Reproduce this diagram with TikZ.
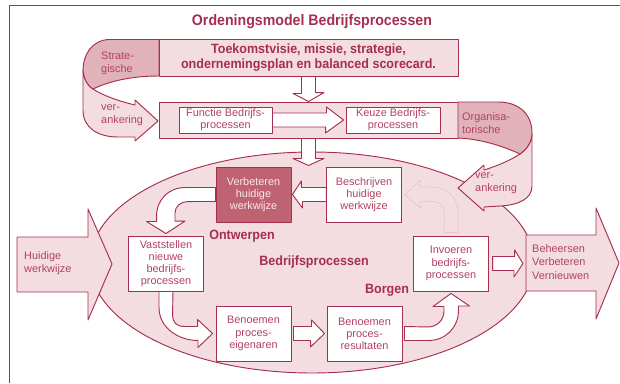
\documentclass[tikz,border=0pt]{standalone}
\usepackage{fontspec}
\setmainfont{Liberation Sans}[BoldFeatures={FakeStretch=0.93}]
\usetikzlibrary{calc}

\definecolor{roze}{RGB}{166,46,80}
\definecolor{tekstroze}{RGB}{178,66,98}
\definecolor{lichtroze}{RGB}{243,221,224}
\definecolor{middenroze}{RGB}{226,178,186}
\definecolor{donkerroze}{RGB}{191,99,115}
\definecolor{bleekroze}{RGB}{250,232,236}

\begin{document}
\begin{tikzpicture}[
    x=0.3mm, y=-0.3mm,
    lijn/.style={draw=roze, line width=0.8pt, line join=round},
    vlak/.style={lijn, fill=lichtroze},
    lint/.style={lijn, fill=middenroze},
    blok/.style={lijn, fill=white},
    vaag/.style={draw=roze!40, line width=0.6pt, densely dotted},
    kader/.style={lijn, fill=white, text=tekstroze, align=center, inner sep=1pt,
        minimum width=22.3mm, minimum height=16.5mm, font=\fontsize{9.3}{10.4}\selectfont},
    kaderdonker/.style={kader, fill=donkerroze, text=bleekroze},
    smal/.style={kader, minimum width=28mm, minimum height=7.8mm, font=\fontsize{9.3}{10}\selectfont},
    tekst/.style={text=tekstroze, align=left, inner sep=0pt, font=\fontsize{9.3}{11}\selectfont},
    kop/.style={text=roze, inner sep=0pt, font=\bfseries\fontsize{11.5}{13}\selectfont}
  ]
  \useasboundingbox (0,0) rectangle (620,383);

  % kader en titel
  \draw[lijn, line cap=rect] (9,383) -- (9,5) -- (620,5);
  \node[kop, font=\bfseries\fontsize{13}{15}\selectfont] (titel) at (312,22) {Ordeningsmodel Bedrijfsprocessen};

  % grote ellips bedrijfsprocessen
  \draw[vlak] (312,262.5) ellipse [x radius=222, y radius=110.5];

  % strategische verankering (lint links)
  \draw[vlak] (83,70) -- (83,110) .. controls (83,128) and (98,137) .. (118,137) -- (135,137)
    -- (135,141) -- (158,121) -- (135,100) -- (135,105)
    .. controls (118,101) and (102,95) .. (93,89) .. controls (88,86) and (84,80) .. (83,70) -- cycle;
  \draw[lint] (159,39.5) -- (110,39.5) .. controls (92,39.5) and (83,55) .. (83,70)
    .. controls (84,80) and (88,86) .. (93,89) .. controls (112,80) and (135,76) .. (159,76) -- cycle;

  % bovenste blokken
  \node[lijn, fill=lichtroze, minimum width=89.7mm, minimum height=11.1mm, align=center, inner sep=0pt,
        text=roze, font=\bfseries\fontsize{11.5}{12.8}\selectfont] (toekomst) at (308.5,57.5)
        {Toekomstvisie, missie, strategie,\\ondernemingsplan en balanced scorecard.};
  \node[lijn, fill=lichtroze, minimum width=89.7mm, minimum height=10.8mm] (uitwerking) at (308.5,120) {};

  % organisatorische verankering (lint rechts)
  \draw[vlak] (532,133) -- (532,186) .. controls (532,198) and (520,205) .. (500,206) -- (484,207)
    -- (484,211) -- (458,188) -- (484,165) -- (484,170)
    .. controls (497,166) and (511,160) .. (520,154) .. controls (527,149) and (532,142) .. (532,133) -- cycle;
  \draw[lint] (458,102) -- (498,102) .. controls (520,102) and (532,115) .. (532,133)
    .. controls (532,142) and (527,149) .. (520,154) .. controls (505,147) and (482,139) .. (458,138) -- cycle;

  \node[smal, minimum width=27.9mm] (functie) at (225.5,120) {Functie Bedrijfs-\\processen};
  \node[smal, minimum width=28.2mm] (keuze) at (393,120) {Keuze Bedrijfs-\\processen};

  % in- en uitgaande pijlen
  \draw[vlak] (17,237) -- (88,237) -- (88,209) -- (112,264) -- (88,320) -- (88,292) -- (17,292) -- cycle;
  \draw[vlak] (526,235) -- (596,235) -- (596,208) -- (619,263) -- (596,319) -- (596,291) -- (526,291) -- cycle;
  \coordinate (uitgang) at (526,263.5);

  % processtappen
  \node[kaderdonker, minimum width=22.5mm] (verbeteren) at (253.5,194.5) {Verbeteren\\huidige\\werkwijze};
  \node[kader] (beschrijven) at (364,194.5) {Beschrijven\\huidige\\werkwijze};
  \node[kader] (vaststellen) at (166,263.5) {Vaststellen\\nieuwe\\bedrijfs-\\processen};
  \node[kader, minimum width=22.5mm] (eigenaren) at (253.5,333.5) {Benoemen\\proces-\\eigenaren};
  \node[kader, minimum width=22.5mm] (resultaten) at (364.5,333.5) {Benoemen\\proces-\\resultaten};
  \node[kader] (invoeren) at (451,263.5) {Invoeren\\bedrijfs-\\processen};

  % blokpijlen
  \draw[blok] ($(toekomst.south)+(-7,0)$) -- ++(0,17) -- ++(-8.5,0) -- (uitwerking.north)
    -- ++(15.5,-9) -- ++(-8.5,0) -- ($(toekomst.south)+(7,0)$) -- cycle;
  \draw[blok] ($(uitwerking.south)+(-7,0)$) -- ++(0,20) -- ++(-8.5,0) -- ($(uitwerking.south)+(0,27)$)
    -- ++(15.5,-7) -- ++(-8.5,0) -- ($(uitwerking.south)+(7,0)$) -- cycle;
  \draw[blok] ($(functie.east)+(0,-7)$) -- ++(54,0) -- ++(0,-6) -- ($(keuze.west)+(-2,0)$)
    -- ++(-18,13) -- ++(0,-6) -- ($(functie.east)+(0,7)$) -- cycle;
  \draw[blok] ($(beschrijven.west)+(0,-7)$) -- ++(-25,0) -- ++(0,-6.5) -- ($(verbeteren.east)+(1,0)$)
    -- ++(10,13.5) -- ++(0,-6.5) -- ($(beschrijven.west)+(0,7)$) -- cycle;
  \draw[blok] ($(verbeteren.west)+(0,-7)$) -- ++(-30,0) .. controls +(-17,0) and +(0,-17) .. ++(-29,29)
    -- ++(0,5) -- ++(-10,0) -- ($(vaststellen.north)+(0,-2)$) -- ++(19,-12.5) -- ++(-10,0) -- ++(0,-8)
    .. controls +(0,-7) and +(-7,0) .. ++(13,-11.5) -- ($(verbeteren.west)+(0,7)$) -- cycle;
  \draw[blok] ($(vaststellen.south)+(-7,0)$) -- ++(0,16) .. controls +(0,20) and +(-20,0) .. ++(39,33)
    -- ++(0,7) -- ($(eigenaren.west)+(-3,0)$) -- ++(-15,-14) -- ++(0,7) -- ++(-13,0)
    .. controls +(-8,0) and +(0,8) .. ++(-12,-12) -- ($(vaststellen.south)+(7,0)$) -- cycle;
  \draw[blok] ($(eigenaren.east)+(2,-7)$) -- ++(18,0) -- ++(0,-6.5) -- ($(resultaten.west)+(-2,0)$)
    -- ++(-14,13.5) -- ++(0,-6.5) -- ($(eigenaren.east)+(2,7)$) -- cycle;
  \draw[blok] ($(resultaten.east)+(2,7)$) -- ++(24,0) .. controls +(17,0) and +(0,17) .. ++(30,-30)
    -- ++(0,-4.5) -- ++(11,0) -- ($(invoeren.south)+(0,2)$) -- ++(-18,13) -- ++(11,0) -- ++(0,4.5)
    .. controls +(0,9) and +(9,0) .. ++(-16,16) -- ($(resultaten.east)+(2,-7)$) -- cycle;
  \draw[blok] ($(invoeren.east)+(4,-7)$) -- ++(22,0) -- ++(0,-6.5) -- ($(uitgang)+(-3,0)$)
    -- ++(-9,13.5) -- ++(0,-6.5) -- ($(invoeren.east)+(4,7)$) -- cycle;
  % terugkoppeling (gestippeld)
  \draw[vaag] ($(invoeren.north)+(7,-3)$) -- ++(0,-20) .. controls +(0,-15) and +(15,0) .. ++(-26,-25.5)
    -- ++(-12,0) -- ++(0,-6.5) -- ($(beschrijven.east)+(3,0)$) -- ++(16,13.5) -- ++(0,-6.5) -- ++(13,0)
    .. controls +(6,0) and +(0,-6) .. ++(11,11) -- ($(invoeren.north)+(-7,-3)$) -- cycle;

  % teksten
  \node[tekst, anchor=west] (strategisch) at (101,63.5) {Strate-\\gische};
  \node[tekst, anchor=west] (verankeringL) at (101,115.5) {ver-\\ankering};
  \node[tekst, anchor=west] (organisatorisch) at (462,123) {Organisa-\\torische};
  \node[tekst, anchor=west] (verankeringR) at (475,183.5) {ver-\\ankering};
  \node[tekst, anchor=west] (huidig) at (24,263.5) {Huidige\\werkwijze};
  \node[tekst, anchor=west, font=\fontsize{9.3}{11.3}\selectfont] (beheer) at (532,262) {Beheersen\\Verbeteren\\Vernieuwen};
  \node[kop] (ontwerpen) at (242,236) {Ontwerpen};
  \node[kop] (bedrijfsprocessen) at (314,262) {Bedrijfsprocessen};
  \node[kop] (borgen) at (387,290) {Borgen};
\end{tikzpicture}
\end{document}
